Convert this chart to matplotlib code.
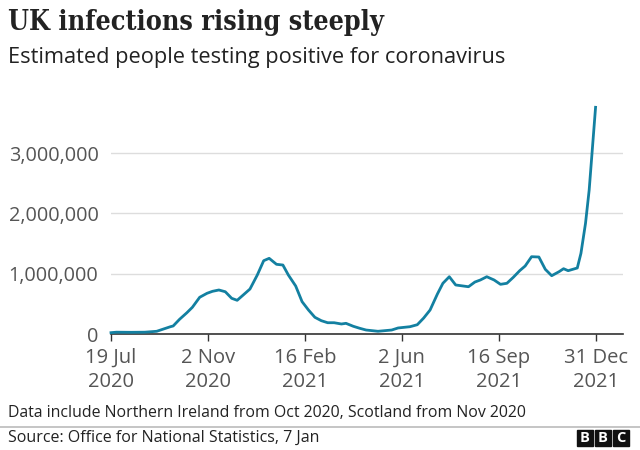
import matplotlib
matplotlib.use("Agg")
import matplotlib.pyplot as plt
import pandas as pd

dates = ["2020-07-19", "2020-07-25", "2020-08-10", "2020-08-25", "2020-09-07",
         "2020-09-22", "2020-09-25", "2020-10-02", "2020-10-10", "2020-10-16",
         "2020-10-24", "2020-11-01", "2020-11-07", "2020-11-14", "2020-11-21",
         "2020-11-28", "2020-12-04", "2020-12-11", "2020-12-18", "2020-12-26",
         "2021-01-02", "2021-01-08", "2021-01-16", "2021-01-23", "2021-01-29",
         "2021-02-06", "2021-02-13", "2021-02-20", "2021-02-27", "2021-03-06",
         "2021-03-13", "2021-03-20", "2021-03-28", "2021-04-02", "2021-04-10",
         "2021-04-17", "2021-04-24", "2021-05-07", "2021-05-22", "2021-05-29",
         "2021-06-11", "2021-06-19", "2021-06-26", "2021-07-03", "2021-07-11",
         "2021-07-17", "2021-07-24", "2021-07-31", "2021-08-14", "2021-08-21",
         "2021-08-27", "2021-09-03", "2021-09-11", "2021-09-18", "2021-09-25",
         "2021-10-02", "2021-10-09", "2021-10-15", "2021-10-22", "2021-10-30",
         "2021-11-06", "2021-11-13", "2021-11-21", "2021-11-26", "2021-12-01",
         "2021-12-11", "2021-12-15", "2021-12-20", "2021-12-24", "2021-12-31"]
values = [22000, 30000, 28000, 30000, 45000,
          121000, 133000, 244000, 353000, 443000,
          609000, 675000, 708000, 730000, 701000,
          592000, 559000, 652000, 746000, 978000,
          1216000, 1255000, 1156000, 1144000, 978000,
          796000, 536000, 398000, 277000, 221000,
          187000, 187000, 166000, 177000, 128000,
          95000, 66000, 45000, 66000, 100000,
          121000, 154000, 265000, 398000, 663000,
          841000, 950000, 813000, 784000, 862000,
          896000, 950000, 896000, 824000, 841000,
          940000, 1050000, 1128000, 1282000, 1277000,
          1073000, 967000, 1033000, 1083000, 1050000,
          1095000, 1338000, 1836000, 2388000, 3760000]

tick_dates = ["2020-07-19", "2020-11-02", "2021-02-16", "2021-06-02", "2021-09-16", "2021-12-31"]
tick_labels = ["19 Jul\n2020", "2 Nov\n2020", "16 Feb\n2021", "2 Jun\n2021", "16 Sep\n2021", "31 Dec\n2021"]
y_ticks = [0, 1000000, 2000000, 3000000]
y_labels = ["0", "1,000,000", "2,000,000", "3,000,000"]

title = "UK infections rising steeply"
subtitle = "Estimated people testing positive for coronavirus"
note = "Data include Northern Ireland from Oct 2020, Scotland from Nov 2020"
source = "Source: Office for National Statistics, 7 Jan"

plt.rcParams['font.family'] = ['Open Sans', 'DejaVu Sans']

fig = plt.figure(figsize=(6.4, 4.5), dpi=100)
ax = fig.add_axes([111/640, 1 - 334/450, 512/640, (334 - 104.9)/450])

x = pd.to_datetime(dates)
ax.plot(x, values, color="#1380A1", lw=2.0, solid_joinstyle="round", zorder=3, clip_on=False)

ax.set_xlim(pd.Timestamp("2020-07-19"), pd.Timestamp("2020-07-19") + pd.Timedelta(days=560))
ax.set_ylim(0, 3800000)

ax.set_yticks(y_ticks)
ax.set_yticklabels(y_labels)
ax.set_xticks(pd.to_datetime(tick_dates))
ax.set_xticklabels(tick_labels, linespacing=1.3)

ax.tick_params(axis="y", length=0, pad=9, labelsize=14.3, labelcolor="#555555")
ax.tick_params(axis="x", length=5, width=1, color="#333333", pad=5, labelsize=14.5, labelcolor="#555555")

ax.grid(axis="y", color="#dddddd", lw=1)
ax.set_axisbelow(True)
for s in ["top", "right", "left"]:
    ax.spines[s].set_visible(False)
ax.spines["bottom"].set_color("#333333")
ax.spines["bottom"].set_linewidth(1.2)

fig.text(8/640, 1 - 22/450, title, fontsize=19.3, fontweight="bold", family=["DejaVu Serif"],
         fontstretch="condensed", color="#222222", va="center", ha="left")
fig.text(8/640, 1 - 57/450, subtitle, fontsize=15.7, color="#222222", va="center", ha="left")
fig.text(8/640, 1 - 413/450, note, fontsize=11.4, color="#222222", va="center", ha="left")
fig.text(8/640, 1 - 438/450, source, fontsize=11.5, color="#222222", va="center", ha="left")

fig.add_artist(plt.Line2D([0, 1], [1 - 427/450, 1 - 427/450], color="#bbbbbb", lw=1.2,
                          transform=fig.transFigure))

# BBC logo
for i, letter in enumerate("BBC"):
    x0 = (577 + i * 18) / 640
    fig.add_artist(plt.Rectangle((x0, 1 - 446/450), 16/640, 16/450, color="#111111",
                                 transform=fig.transFigure))
    fig.text(x0 + 8/640, 1 - 438/450, letter, fontsize=10.5, fontweight="bold",
             color="white", ha="center", va="center")

fig.savefig("out.png", dpi=100, facecolor="white")
